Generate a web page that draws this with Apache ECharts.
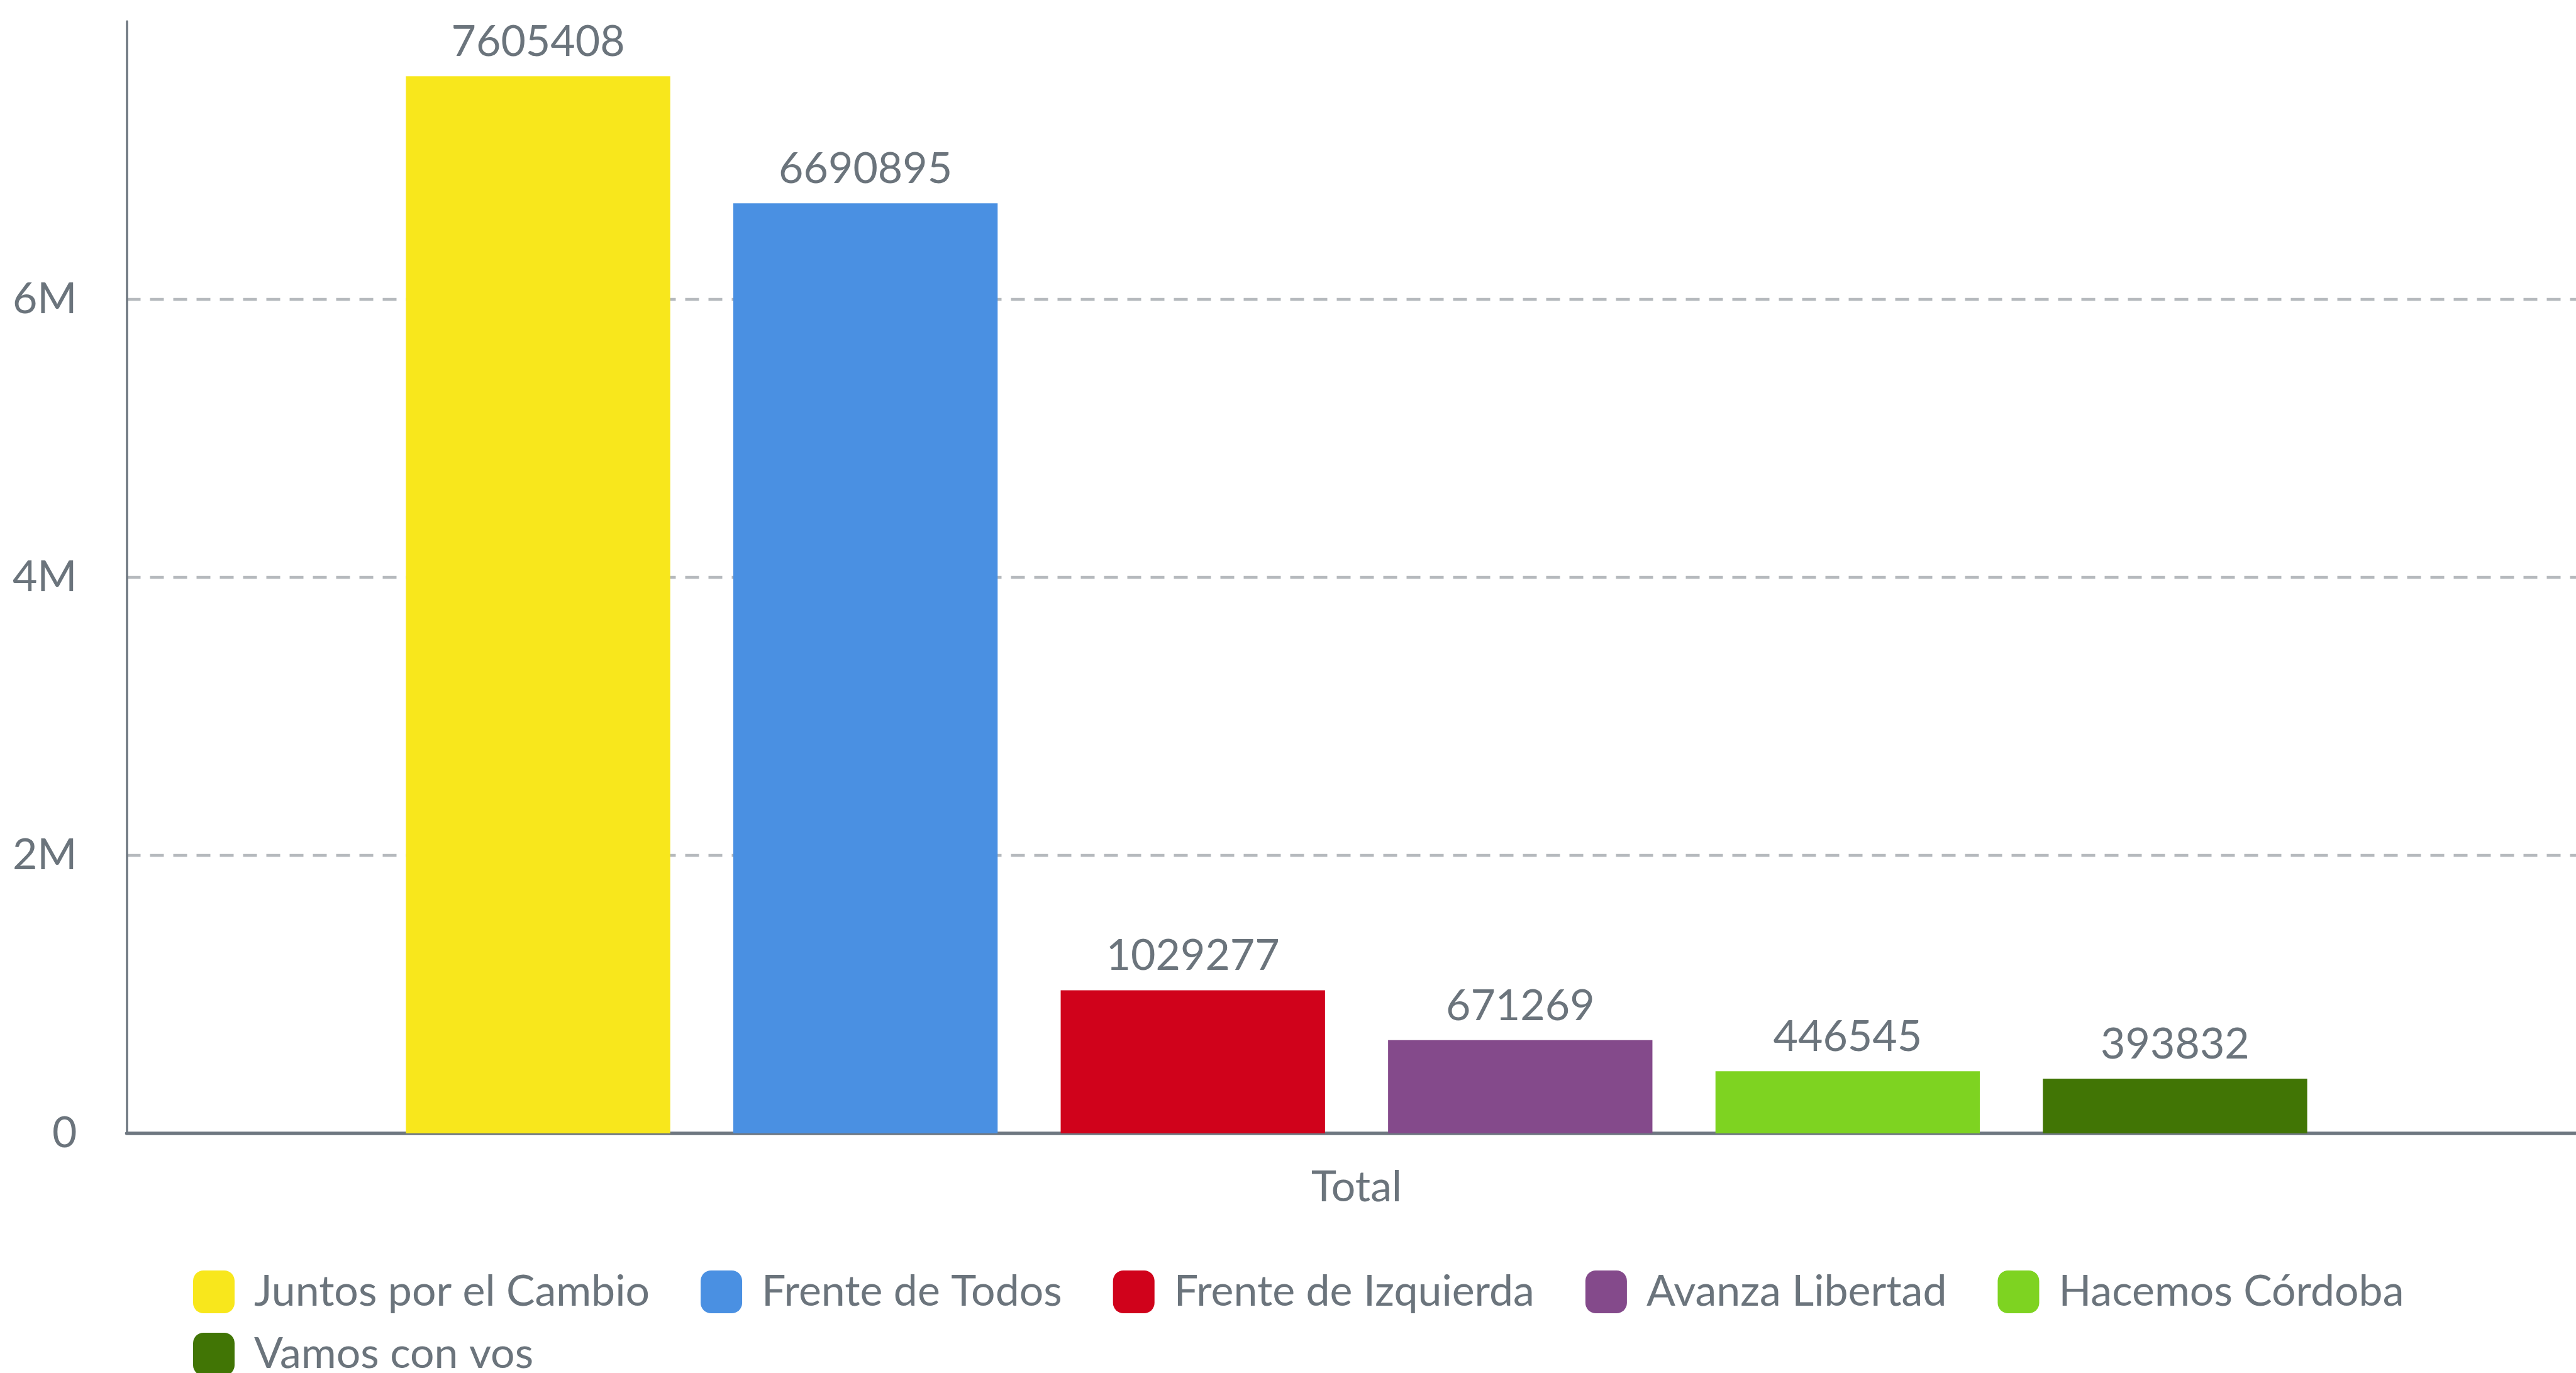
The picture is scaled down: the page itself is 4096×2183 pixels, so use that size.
<!DOCTYPE html>
<html>
<head>
<meta charset="utf-8">
<script src="https://cdn.jsdelivr.net/npm/echarts@6/dist/echarts.min.js"></script>
<style>
  html, body { margin: 0; padding: 0; background: #fff; }
  #chart { width: 4096px; height: 2183px; }
</style>
</head>
<body>
<div id="chart"></div>
<script>
// datos
var categorias = ['Total'];
var partidos = ['Juntos por el Cambio', 'Frente de Todos', 'Frente de Izquierda', 'Avanza Libertad', 'Hacemos Córdoba', 'Vamos con vos'];
var votos = [7605408, 6690895, 1029277, 671269, 446545, 393832];
var colores = ['#F8E71C', '#4A90E2', '#D0021B', '#844A8B', '#7ED321', '#417505'];
var ticksY = [0, 2000000, 4000000, 6000000];

var gris = '#6b747c';
var fuente = 'Lato';

var chart = echarts.init(document.getElementById('chart'));

var series = partidos.map(function (nombre, i) {
  return {
    name: nombre,
    type: 'bar',
    data: [votos[i]],
    barGap: '23.85%',
    barCategoryGap: '22.7%',
    itemStyle: { color: colores[i] },
    label: {
      show: true,
      position: 'top',
      distance: 20,
      color: gris,
      fontFamily: fuente,
      fontSize: 68
    }
  };
});

// leyenda en dos filas (la ultima entrada baja sola)
var leyendaBase = {
  left: 302,
  icon: 'roundRect',
  itemWidth: 66,
  itemHeight: 68,
  itemGap: 81,
  textStyle: {
    color: gris,
    fontFamily: fuente,
    fontSize: 68,
    padding: [0, 0, 0, 26]
  }
};

var option = {
  backgroundColor: '#fff',
  color: colores,
  animation: false,
  grid: {
    left: 201.5,
    width: 3911,
    top: 34,
    bottom: 381,
    containLabel: false,
    outerBoundsMode: 'none'
  },
  legend: [
    Object.assign({}, leyendaBase, { data: partidos.slice(0, 5), top: 2015 }),
    Object.assign({}, leyendaBase, { data: partidos.slice(5), top: 2114 })
  ],
  xAxis: {
    type: 'category',
    data: categorias,
    axisTick: { show: false },
    axisLine: { lineStyle: { color: '#6e7780', width: 5.5 } },
    axisLabel: {
      color: gris,
      fontFamily: fuente,
      fontSize: 68,
      margin: 52
    }
  },
  yAxis: {
    type: 'value',
    min: 0,
    max: 8000000,
    interval: 2000000,
    axisLine: { show: true, lineStyle: { color: '#6e7780', width: 3.5 } },
    axisTick: { show: false },
    axisLabel: {
      showMaxLabel: false,
      color: gris,
      fontFamily: fuente,
      fontSize: 68,
      margin: 79,
      formatter: function (v) {
        if (ticksY.indexOf(v) < 0) return '';
        return v === 0 ? '0' : (v / 1000000) + 'M';
      }
    },
    splitLine: {
      show: true,
      showMinLine: false,
      showMaxLine: false,
      lineStyle: { color: '#b5b9bd', width: 4.4, type: [22, 15] }
    }
  },
  series: series
};

chart.setOption(option);
</script>
</body>
</html>
